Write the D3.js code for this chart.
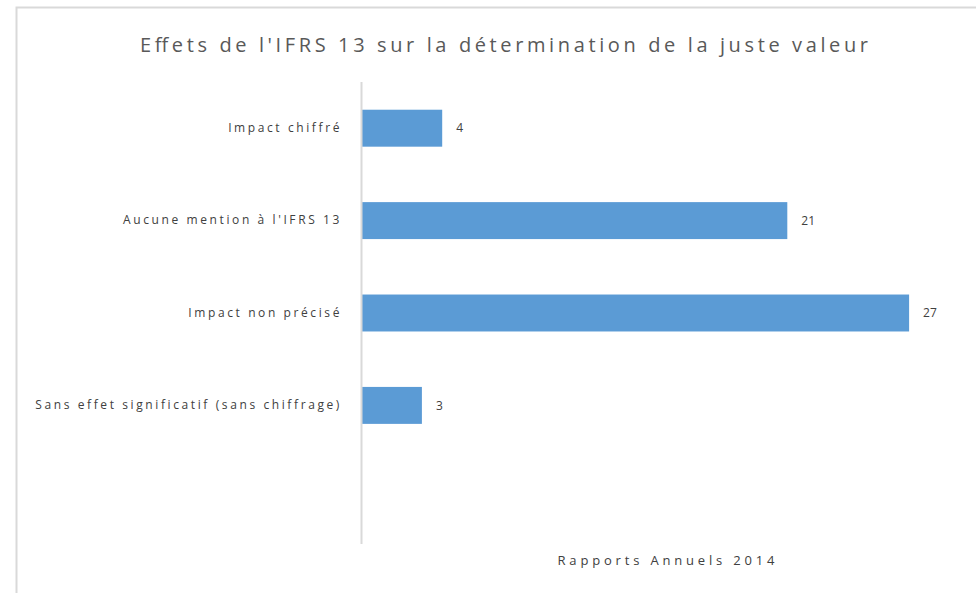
<!DOCTYPE html>
<html>
<head>
<meta charset="utf-8">
<script src="https://cdn.jsdelivr.net/npm/d3@7"></script>
<style>
  body { margin: 0; background: #fff; }
  svg { display: block; font-family: "Open Sans", "DejaVu Sans", sans-serif; }
</style>
</head>
<body>
<div id="vis"></div>
<script>
const FRAME_WIDTH = 976;
const FRAME_HEIGHT = 593;
const MARGINS = {left: 361, right: 7, top: 82, bottom: 49};

// chart data
const categories = ['Impact chiffré', "Aucune mention à l'IFRS 13", 'Impact non précisé', 'Sans effet significatif (sans chiffrage)', ''];
const values = [4, 21, 27, 3, null];
const title = "Effets de l'IFRS 13 sur la détermination de la juste valeur";
const xLabel = 'Rapports Annuels 2014';

const VIS_WIDTH = FRAME_WIDTH - MARGINS.left - MARGINS.right;
const VIS_HEIGHT = FRAME_HEIGHT - MARGINS.top - MARGINS.bottom;

const FRAME = d3.select('#vis')
  .append('svg')
    .attr('width', FRAME_WIDTH)
    .attr('height', FRAME_HEIGHT);

// outer chart border (runs off the right and bottom of the picture)
FRAME.append('rect')
  .attr('x', 16.5).attr('y', 7.5)
  .attr('width', 1100).attr('height', 1100)
  .attr('fill', '#fff')
  .attr('stroke', '#d9d9d9')
  .attr('stroke-width', 2);

const data = categories.map((c, i) => ({cat: c, val: values[i]}));

const X_SCALE = d3.scaleLinear()
  .domain([0, 30])
  .range([0, 609]);

const Y_SCALE = d3.scaleBand()
  .domain(categories)
  .range([0, VIS_HEIGHT])
  .paddingInner(0.6)
  .paddingOuter(0.3);

const g = FRAME.append('g')
  .attr('transform', 'translate(' + MARGINS.left + ',' + MARGINS.top + ')');

g.selectAll('.bar')
  .data(data.filter(d => d.val != null))
  .enter()
  .append('rect')
    .attr('class', 'bar')
    .attr('x', 0)
    .attr('y', d => Y_SCALE(d.cat))
    .attr('width', d => X_SCALE(d.val))
    .attr('height', Y_SCALE.bandwidth())
    .attr('fill', '#5b9bd5');

// value labels
g.selectAll('.val')
  .data(data.filter(d => d.val != null))
  .enter()
  .append('text')
    .attr('x', d => X_SCALE(d.val) + 14)
    .attr('y', d => Y_SCALE(d.cat) + Y_SCALE.bandwidth() / 2)
    .attr('dy', '0.35em')
    .attr('font-size', '12px')
    .attr('fill', '#404040')
    .text(d => d.val);

// category axis
const yAxis = g.append('g')
  .call(d3.axisLeft(Y_SCALE).tickSize(0).tickPadding(19));
yAxis.select('.domain').remove();
yAxis.selectAll('text')
  .attr('font-size', '12px')
  .attr('letter-spacing', '2.6px')
  .attr('font-family', '"Open Sans", "DejaVu Sans", sans-serif')
  .attr('fill', '#404040');

g.append('line')
  .attr('x1', 0.5).attr('x2', 0.5)
  .attr('y1', 0).attr('y2', VIS_HEIGHT)
  .attr('stroke', '#d9d9d9')
  .attr('stroke-width', 2);

FRAME.append('text')
  .attr('x', 504)
  .attr('y', 52)
  .attr('text-anchor', 'middle')
  .attr('font-size', '20px')
  .attr('fill', '#595959')
  .attr('textLength', 728)
  .text(title);

FRAME.append('text')
  .attr('x', MARGINS.left + 305)
  .attr('y', 565)
  .attr('text-anchor', 'middle')
  .attr('font-size', '13px')
  .attr('fill', '#404040')
  .attr('textLength', 217)
  .text(xLabel);
</script>
</body>
</html>
